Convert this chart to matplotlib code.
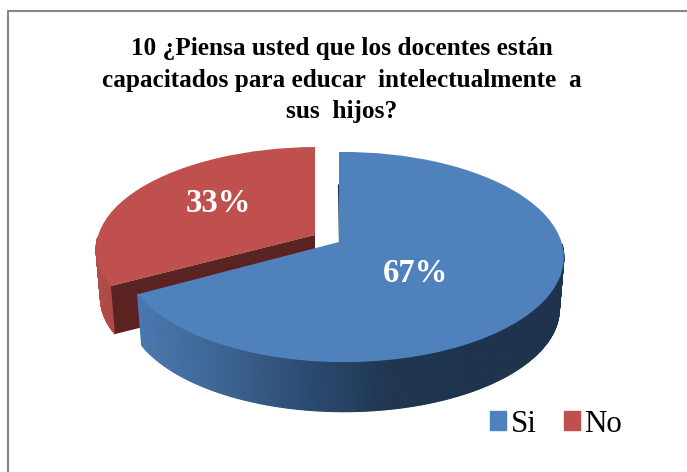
import numpy as np
import matplotlib
matplotlib.use('Agg')
import matplotlib.pyplot as plt
import matplotlib.patches as mpatches
from matplotlib.collections import PolyCollection
from matplotlib.colors import LinearSegmentedColormap
from matplotlib.transforms import Transform

plt.rcParams['font.family'] = ['Liberation Serif', 'DejaVu Serif']

title = "10 ¿Piensa usted que los docentes están\ncapacitados para educar  intelectualmente  a\nsus  hijos?"
labels = ['Si', 'No']
values = [67, 33]
colors = ['#4f81bd', '#c0504d']

W, H = 687, 472
P, Q = 1 / 7.0, -0.02   # perspective of the tilted disc


class Tilt(Transform):
    """Unit circle to the tilted pie face, in pixels."""
    input_dims = 2
    output_dims = 2

    def __init__(self, cx, cy, rx, ry):
        super().__init__()
        self.cx, self.cy, self.rx, self.ry = cx, cy, rx, ry

    def transform_non_affine(self, values):
        values = np.asarray(values, dtype=float)
        u, v = values[:, 0], values[:, 1]
        w = 1 + P * v + Q * u
        return np.column_stack([self.cx + self.rx * u / w, self.cy - self.ry * v / w])


def rim(ax, wedge, tilt, depth, cmap, x0, x1):
    """Front wall of a slice, strips coloured by their x position."""
    th = np.radians(np.linspace(wedge.theta1, wedge.theta2, 400))
    th = th[np.sin(th) < -0.02]   # the back part is hidden by the face anyway
    pts = np.column_stack([np.cos(th), np.sin(th)])
    top = tilt.transform_non_affine(pts)
    bot = top.copy()
    bot[:, 0] = tilt.cx + (bot[:, 0] - tilt.cx) * 0.98
    bot[:, 1] = tilt.cy + (bot[:, 1] - tilt.cy) * 0.98 + depth
    quads = [[top[i], top[i + 1], bot[i + 1], bot[i]] for i in range(len(th) - 1)]
    cols = cmap(np.clip((top[:-1, 0] - x0) / (x1 - x0), 0, 1))
    ax.add_collection(PolyCollection(quads, facecolors=cols, edgecolors=cols, linewidths=0.8,
                                     zorder=wedge.get_zorder() - 0.5))


fig = plt.figure(figsize=(W / 100, H / 100), dpi=100)
ax = fig.add_axes([0, 0, 1, 1])

wedges, _ = ax.pie(values, colors=colors, startangle=90, counterclock=False, radius=1)
blue, red = wedges

tilt_blue = Tilt(339, 242, 218, 102.9)
tilt_red = Tilt(315, 235, 221, 100.6)

blue.set_transform(tilt_blue + ax.transData)
red.set_transform(tilt_red + ax.transData)
blue.set_zorder(6)
red.set_zorder(3)

ax.set_aspect('auto')
ax.set_xlim(0, W)
ax.set_ylim(H, 0)
ax.axis('off')

# walls
blue_side = LinearSegmentedColormap.from_list('b', ['#4a78ae', '#3c6492', '#2b4a70', '#1f3550', '#1f334d'])
red_side = LinearSegmentedColormap.from_list('r', ['#b44c49', '#a84643'])
rim(ax, blue, tilt_blue, 52, blue_side, 138, 480)
rim(ax, red, tilt_red, 49, red_side, 97, 130)

# cut face of the red slice, showing under its straight edge
th = np.radians(red.theta2)
corner = tilt_red.transform_non_affine(np.array([[np.cos(th), np.sin(th)]]))[0]
cut = [(tilt_red.cx, tilt_red.cy), tuple(corner),
       (tilt_red.cx + (corner[0] - tilt_red.cx) * 0.98, tilt_red.cy + (corner[1] - tilt_red.cy) * 0.98 + 49),
       (tilt_red.cx, tilt_red.cy + 49)]
ax.add_patch(mpatches.Polygon(cut, closed=True, facecolor='#5a2322', edgecolor='none', zorder=4))

# thin dark edge on the blue slice gap
ax.plot([338.5, 339.5], [185, 242], color='#1f3550', lw=0.9, zorder=5)

ax.text(342, 80, title, ha='center', va='center', fontsize=18.2, fontweight='bold',
        linespacing=1.46, color='black', zorder=10)

ax.text(415, 274, f'{values[0]}%', ha='center', va='center', color='white',
        fontsize=23.5, fontweight='bold', zorder=10)
ax.text(218, 204, f'{values[1]}%', ha='center', va='center', color='white',
        fontsize=23.5, fontweight='bold', zorder=10)

# outer frame, only left and top are visible
ax.plot([8, 8, W], [H, 10.5, 10.5], color='#868686', lw=1.5, zorder=1, clip_on=False)

handles = [mpatches.Patch(color=c, label=l) for c, l in zip(colors, labels)]
ax.legend(handles=handles, ncol=2, frameon=False, fontsize=22.3, loc='center left',
          bbox_to_anchor=(481 / W, 1 - 424 / H), borderpad=0, borderaxespad=0.3,
          handlelength=0.52, handleheight=0.52, handletextpad=0.16, columnspacing=0.85)

fig.savefig('out.png', dpi=100)
